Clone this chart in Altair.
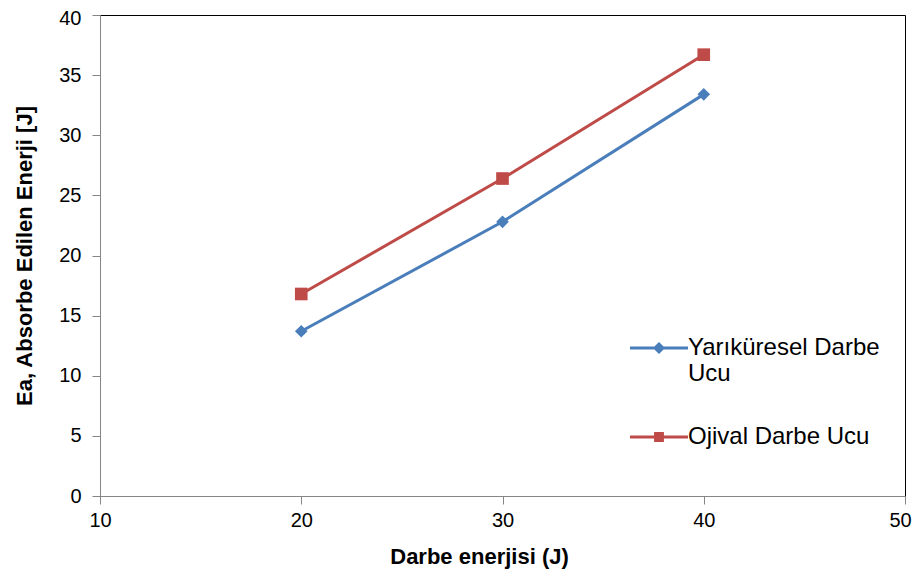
import altair as alt
import pandas as pd

energy = [20, 30, 40]
yarikuresel = [13.7, 22.8, 33.4]
ojival = [16.8, 26.4, 36.7]
series_names = ["Yarıküresel Darbe Ucu", "Ojival Darbe Ucu"]
colors = ["#4A7EBB", "#BE4B48"]
marker_shapes = ["diamond", "square"]
legend_shapes = [
    "M-1,-0.05H1V0.05H-1Z M0,-0.21L0.21,0L0,0.21L-0.21,0Z",
    "M-1,-0.05H1V0.05H-1Z M-0.17,-0.17H0.17V0.17H-0.17Z",
]

rows = []
for e, v in zip(energy, yarikuresel):
    rows.append({"x": e, "y": v, "s": series_names[0]})
for e, v in zip(energy, ojival):
    rows.append({"x": e, "y": v, "s": series_names[1]})
df = pd.DataFrame(rows)

FONT = "Liberation Sans"
xenc = alt.X("x:Q", scale=alt.Scale(domain=[10, 50], nice=False),
             axis=alt.Axis(values=[10, 20, 30, 40, 50], title="Darbe enerjisi (J)",
                           titleX=379, titleY=60, titleBaseline="middle",
                           labelOffset={"condition": {"test": "datum.value == 50", "value": -5}, "value": 0}))
yenc = alt.Y("y:Q", scale=alt.Scale(domain=[0, 40], nice=False),
             axis=alt.Axis(values=[0, 5, 10, 15, 20, 25, 30, 35, 40],
                           title="Ea, Absorbe Edilen Enerji [J]",
                           labelOffset={"condition": {"test": "datum.value == 40", "value": 3}, "value": 0}))
color_scale = alt.Scale(domain=series_names, range=colors)

legend_props = dict(
    orient="none", legendX=530, legendY=304,
    symbolSize=3364, symbolStrokeWidth=0,
    labelFont=FONT, labelFontSize=24, labelColor="#000000",
    labelLimit=400, rowPadding=22, labelOffset=0,
    labelExpr="datum.label == 'Yarıküresel Darbe Ucu' ? ['Yarıküresel Darbe', 'Ucu'] : datum.label",
)

lines = alt.Chart(df).mark_line(strokeWidth=3).encode(
    x=xenc, y=yenc,
    color=alt.Color("s:N", scale=color_scale, legend=None),
    detail="s:N",
)
points = alt.Chart(df).mark_point(filled=True, opacity=1, size=160).encode(
    x=xenc, y=yenc,
    color=alt.Color("s:N", scale=color_scale, legend=None),
    shape=alt.Shape("s:N", scale=alt.Scale(domain=series_names, range=marker_shapes), legend=None),
)
legend_layer = alt.Chart(df).transform_filter("false").mark_point(filled=True, opacity=1).encode(
    x=xenc, y=yenc,
    color=alt.Color("s:N", scale=color_scale, title=None, legend=alt.Legend(**legend_props)),
    shape=alt.Shape("s:N", scale=alt.Scale(domain=series_names, range=legend_shapes),
                    title=None, legend=alt.Legend(**legend_props)),
)

chart = alt.layer(lines, points, legend_layer).resolve_scale(
    shape="independent"
).resolve_legend(
    color="independent", shape="independent"
).properties(
    width=805, height=481,
    autosize=alt.AutoSizeParams(type="none"),
    padding={"left": 92, "top": 7, "right": 7, "bottom": 76},
).configure_view(
    stroke="#000000", strokeWidth=1,
).configure_axis(
    grid=False, labelFlush=False,
    domainColor="#868686", tickColor="#868686", tickSize=8,
    labelFont=FONT, labelFontSize=20, labelColor="#000000",
    titleFont=FONT, titleFontSize=22, titleFontWeight="bold", titleColor="#000000",
).configure_axisY(
    labelPadding=11, titlePadding=22,
).configure_axisX(
    labelPadding=6,
)

chart.save("out.html", embed_options={"renderer": "svg", "actions": False})
